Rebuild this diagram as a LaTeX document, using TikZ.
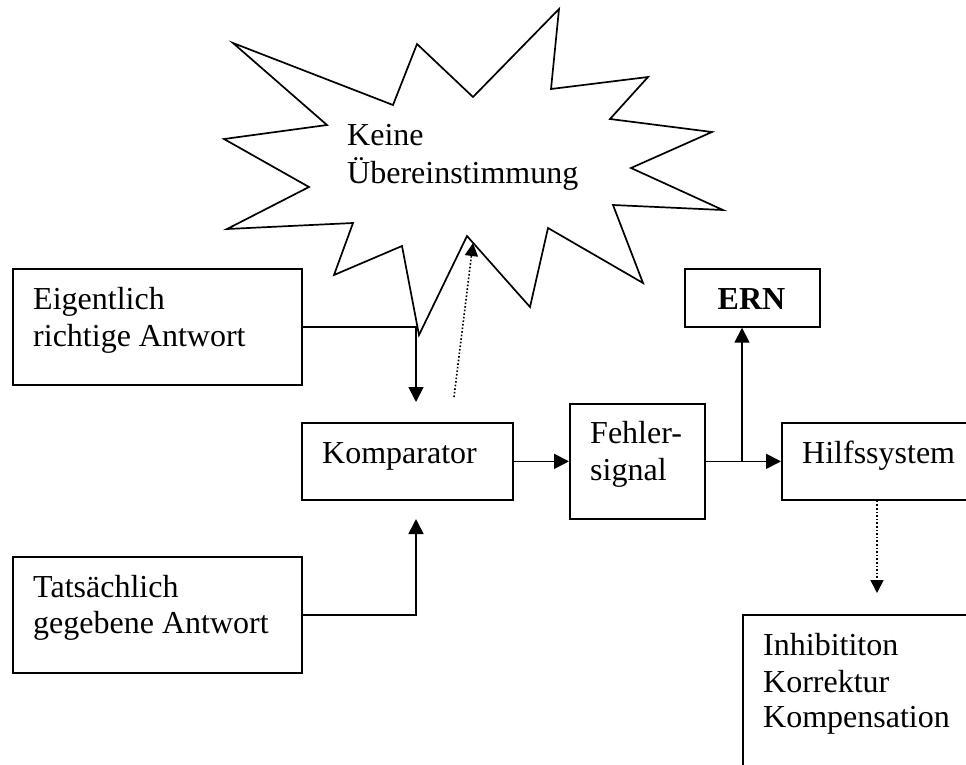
\documentclass[tikz,border=0pt]{standalone}
\usepackage{fontspec}
\setmainfont{Liberation Serif}
\usetikzlibrary{arrows.meta}
\begin{document}
\begin{tikzpicture}[x=1pt,y=-1pt,
  box/.style={draw,line width=1.7pt,inner sep=0pt,anchor=north west},
  lbl/.style={anchor=base west,inner sep=0pt,font=\fontsize{32}{37}\selectfont},
  arr/.style={line width=1.7pt,-{Triangle[length=15pt,width=15pt]}},
  dotarr/.style={line width=1.6pt,dash pattern=on 1.6pt off 2pt,-{Triangle[length=13pt,width=13pt]}}]
\clip (0,0) rectangle (966,764);
\fill[white] (0,0) rectangle (966,764);
% starburst
\draw[line width=1.7pt,line join=miter,miter limit=20]
  (233,43) -- (393,105) -- (417,44) -- (473,97) -- (559,9) -- (551,89)
  -- (648,77) -- (610,119) -- (712,132) -- (631,168) -- (723,210)
  -- (613,205) -- (643,283) -- (548,228) -- (530,307) -- (467,236)
  -- (419,335) -- (402,246) -- (334,275) -- (353,223) -- (227,229)
  -- (309,187) -- (224,139) -- (327,125) -- cycle;
\node[lbl] (t1) at (347,145) {Keine};
\node[lbl] (t2) at (347,183) {Übereinstimmung};
% boxes
\node[box,minimum width=289pt,minimum height=116pt] (eig) at (12,268) {};
\node[box,minimum width=289pt,minimum height=116pt] (tat) at (12,556) {};
\node[box,minimum width=211pt,minimum height=77pt] (komp) at (301,422) {};
\node[box,minimum width=135pt,minimum height=115pt] (fehl) at (569,403) {};
\node[box,minimum width=135pt,minimum height=58pt] (ern) at (684,268) {};
\node[box,minimum width=240pt,minimum height=77pt] (hilf) at (781,422) {};
\node[box,minimum width=260pt,minimum height=200pt] (inh) at (742,614) {};
% texts
\node[lbl] (e1) at (33,309) {Eigentlich};
\node[lbl] (e2) at (33,346) {richtige Antwort};
\node[lbl] (a1) at (33,597) {Tatsächlich};
\node[lbl] (a2) at (33,633) {gegebene Antwort};
\node[lbl] (k1) at (322,463) {Komparator};
\node[lbl] (f1) at (590,443) {Fehler-};
\node[lbl] (f2) at (590,480) {signal};
\node[lbl,anchor=base] (r1) at (751.5,309) {\bfseries ERN};
\node[lbl] (h1) at (802,463) {Hilfssystem};
\node[lbl] (i1) at (763,655) {Inhibititon};
\node[lbl] (i2) at (763,692) {Korrektur};
\node[lbl] (i3) at (763,727) {Kompensation};
% connectors
\coordinate (kin) at (416,402);
\coordinate (kup) at (416,519);
\coordinate (br) at (742,460.5);
\coordinate (d1) at (454,397);
\coordinate (d2) at (473,243);
\coordinate (hx) at (877,593);
\draw[arr] (eig.east) -| (kin);
\draw[arr] (tat.east) -| (kup);
\draw[arr] (komp.east) -- (fehl.west);
\draw[arr] (fehl.east) -- (hilf.west);
\draw[arr] (br) -- (ern.south -| br);
\draw[dotarr] (d1) -- (d2);
\draw[dotarr] (hilf.south -| hx) -- (hx);
\end{tikzpicture}
\end{document}
